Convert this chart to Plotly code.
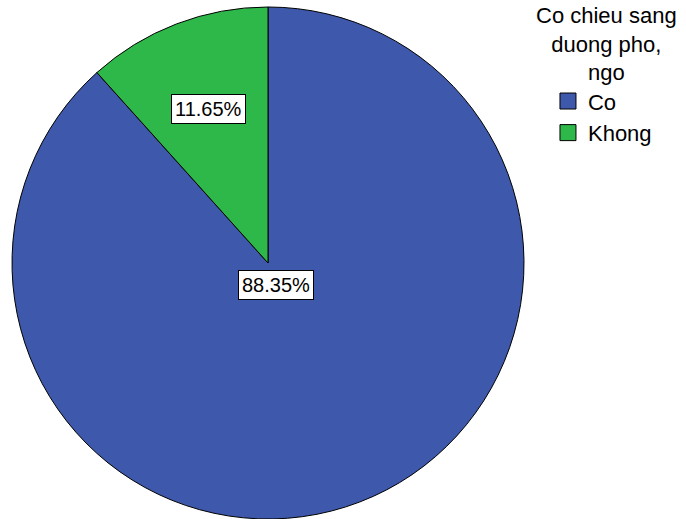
import math
import plotly.graph_objects as go

# Data
categories = ["Co", "Khong"]
values = [88.35, 11.65]
label_texts = ["88.35%", "11.65%"]
legend_title = "Co chieu sang<br>duong pho,<br>ngo"

# Styles
colors = ["#3E58AC", "#2EB84A"]
label_radius_frac = [0.09, 0.645]
FONT = "Liberation Sans, Arial, sans-serif"

fig = go.Figure()
fig.add_trace(
    go.Pie(
        labels=categories,
        values=values,
        sort=False,
        direction="clockwise",
        rotation=0,
        marker=dict(colors=colors, line=dict(color="black", width=1)),
        textinfo="none",
        hoverinfo="label+percent",
        domain=dict(x=[0, 1], y=[0, 1]),
        showlegend=False,
    )
)

# legend entries (square swatches) for each category
for cat, col in zip(categories, colors):
    fig.add_trace(
        go.Scatter(
            x=[None], y=[None], mode="markers", name=cat,
            marker=dict(symbol="square", size=16, color=col,
                        line=dict(color="black", width=1)),
            showlegend=True, hoverinfo="skip",
        )
    )

# label annotations placed at slice mid-angles
annotations = []
total = sum(values)
cum = 0.0
rx, ry = 0.498, 0.5
for v, txt, rf in zip(values, label_texts, label_radius_frac):
    mid = (cum + v / 2) / total * 2 * math.pi  # clockwise from top
    cum += v
    x = 0.5 + rf * rx * math.sin(mid)
    y = 0.5 + rf * ry * math.cos(mid)
    annotations.append(
        dict(
            x=x, y=y, xref="paper", yref="paper", text=txt, showarrow=False,
            font=dict(family=FONT, size=20, color="black"),
            bgcolor="white", bordercolor="black", borderwidth=1, borderpad=3,
            xanchor="center", yanchor="middle",
        )
    )

# legend title
annotations.append(
    dict(
        x=1.1595, y=1 - (44 - 7) / 512, xref="paper", yref="paper", text=legend_title,
        showarrow=False, align="center", xanchor="center", yanchor="middle",
        font=dict(family=FONT, size=22, color="black"),
    )
)

fig.update_layout(
    width=686,
    height=519,
    margin=dict(l=11, r=161, t=7, b=0),
    paper_bgcolor="white",
    plot_bgcolor="white",
    showlegend=True,
    xaxis=dict(visible=False),
    yaxis=dict(visible=False),
    legend=dict(
        x=1.0447, y=0.857, xanchor="left", yanchor="top",
        font=dict(family=FONT, size=22, color="black"),
        bgcolor="rgba(0,0,0,0)",
        itemsizing="trace",
    ),
    annotations=annotations,
)

fig.write_html("out.html")
